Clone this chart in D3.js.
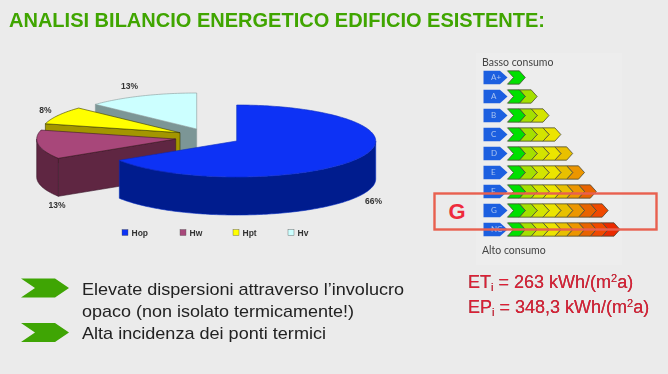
<!DOCTYPE html>
<html>

<head>
  <meta charset="utf-8">
  <script src="https://cdn.jsdelivr.net/npm/d3@7"></script>
  <style>
    html, body { margin: 0; padding: 0; background: #ebebeb; }
    svg { display: block; font-family: "Liberation Sans", Arial, sans-serif; }
  </style>
</head>

<body>
  <div id="chart"></div>

  <script>
    // pie values (percent)
    const categories = ["Hop", "Hw", "Hpt", "Hv"];
    const shares = [66, 13, 8, 13];
    const shareLabels = ["66%", "13%", "8%", "13%"];

    // energy classes, and how many chevrons each row has
    const classes = ["A+", "A", "B", "C", "D", "E", "F", "G", "NC"];
    const classSteps = [1, 2, 3, 4, 5, 6, 7, 8, 9];

    const bullets = ["Elevate dispersioni attraverso l\u2019involucro", "opaco (non isolato termicamente!)", "Alta incidenza dei ponti termici"];

    const width = 668, height = 374;
    const svg = d3.select("#chart").append("svg")
      .attr("width", width).attr("height", height);

    const defs = svg.append("defs");
    defs.append("filter").attr("id", "soft").append("feGaussianBlur").attr("stdDeviation", 0.45);
    defs.append("filter").attr("id", "softtext").append("feGaussianBlur").attr("stdDeviation", 0.3);

    svg.append("text").attr("x", 9).attr("y", 26.5)
      .attr("font-size", 21).attr("font-weight", "bold").attr("fill", "#3fa504")
      .attr("filter", "url(#softtext)")
      .attr("textLength", 536).attr("lengthAdjust", "spacingAndGlyphs")
      .text("ANALISI BILANCIO ENERGETICO EDIFICIO ESISTENTE:");

    // ---- 3D pie
    const topColor = ["#0a32f5", "#a8467a", "#ffff00", "#ccffff"];
    const sideColor = ["#001c8e", "#5f2642", "#a39600", "#7c9696"];
    const lineColor = ["#0a2ac0", "#3a1a2c", "#3a3a00", "#8a9a9a"];
    const apexDx = [236.7, 175.7, 180, 196.7];
    const apexDy = [141, 139, 132.7, 129];
    const rx = 139, ry = 36, depth = 38;

    const sx = d3.scaleLinear().domain([-1, 1]).range([-rx, rx]);
    const sy = d3.scaleLinear().domain([-1, 1]).range([-ry, ry]);
    const px = (a, i) => apexDx[i] + sx(Math.sin(a));
    const py = (a, i) => apexDy[i] + sy(-Math.cos(a));
    const line = d3.line();

    const arcs = d3.pie().sort(null).value(d => d)(shares)
      .map((d, i) => ({ ...d, i }));

    function arcPoints(a0, a1, i, dz) {
      const n = Math.max(2, Math.ceil((a1 - a0) / 0.02));
      return d3.range(n + 1).map(k => {
        const a = a0 + (a1 - a0) * k / n;
        return [px(a, i), py(a, i) + dz];
      });
    }

    const pie = svg.append("g").attr("filter", "url(#soft)");
    // back slices first
    arcs.slice().reverse().forEach(d => {
      const i = d.i, a0 = d.startAngle, a1 = d.endAngle;
      const apex = [apexDx[i], apexDy[i]];
      const g = pie.append("g").attr("stroke", lineColor[i]).attr("stroke-width", 0.6).attr("stroke-linejoin", "round");

      // radial wall at the start of the slice (not for the big one, it faces away)
      if (i > 0) {
        const s = [px(a0, i), py(a0, i)];
        g.append("path").attr("fill", sideColor[i])
          .attr("d", line([apex, s, [s[0], s[1] + depth], [apex[0], apex[1] + depth]]) + "Z");
      }

      // outer rim, only the part that faces the viewer
      const rim0 = Math.max(a0, Math.PI / 2), rim1 = Math.min(a1, Math.PI * 1.5);
      if (rim1 > rim0) {
        const top = arcPoints(rim0, rim1, i, 0);
        const bottom = arcPoints(rim0, rim1, i, depth).reverse();
        g.append("path").attr("fill", sideColor[i]).attr("d", line(top.concat(bottom)) + "Z");
      }

      // upper face
      g.append("path").attr("fill", topColor[i])
        .attr("d", line([apex].concat(arcPoints(a0, a1, i, 0))) + "Z");
    });

    const labelX = [373.5, 57, 45.5, 129.5];
    const labelY = [204, 208, 113, 89];
    svg.append("g").attr("filter", "url(#softtext)").selectAll("text").data(shareLabels).join("text")
      .attr("x", (d, i) => labelX[i]).attr("y", (d, i) => labelY[i])
      .attr("text-anchor", "middle").attr("font-size", 8.5).attr("font-weight", "bold").attr("fill", "#333")
      .text(d => d);

    // legend
    const legendX = [122, 180, 233, 288];
    const legend = svg.append("g").attr("filter", "url(#softtext)").selectAll("g").data(categories).join("g")
      .attr("transform", (d, i) => `translate(${legendX[i]},229.5)`);
    legend.append("rect").attr("width", 6).attr("height", 6)
      .attr("fill", (d, i) => topColor[i]).attr("stroke", "#555").attr("stroke-width", 0.4);
    legend.append("text").attr("x", 9.5).attr("y", 6.3)
      .attr("font-size", 8.5).attr("font-weight", "bold").attr("fill", "#333").text(d => d);

    // ---- energy class ladder
    svg.append("rect").attr("x", 476).attr("y", 53).attr("width", 146).attr("height", 212).attr("fill", "#ededed");

    const stepColor = ["#00e000", "#a4e000", "#d4e400", "#ece400", "#e8c000", "#ec9600", "#e86400", "#f04800", "#ea2a00"];
    const rowY = d3.scaleBand().domain(classes).range([68, 239]).paddingInner(0.3).paddingOuter(0.15);
    const stepX = d3.scaleLinear().domain([0, 9]).range([507.5, 614]);
    const rowH = rowY.bandwidth();

    const ladder = svg.append("g").attr("filter", "url(#soft)");
    const rows = ladder.selectAll("g").data(classes).join("g")
      .attr("transform", d => `translate(0,${rowY(d)})`);

    rows.append("path").attr("fill", "#1f5fe0")
      .attr("d", line([[483.5, 0], [500, 0], [507.5, rowH / 2], [500, rowH], [483.5, rowH]]) + "Z");
    rows.append("text").attr("x", 491).attr("y", rowH / 2 + 3)
      .attr("font-size", 8).attr("fill", "#a8c4f0").attr("font-family", "Lato, sans-serif").text(d => d);

    rows.each(function (d, r) {
      const n = classSteps[r];
      const cw = stepX(1) - stepX(0);
      d3.select(this).selectAll("path.step").data(d3.range(n).reverse()).join("path")
        .attr("class", "step")
        .attr("fill", k => stepColor[k])
        .attr("stroke", "#4a4a3a").attr("stroke-width", 0.8)
        .attr("d", k => {
          const x = stepX(k);
          return line([[x, 0], [x + cw, 0], [x + cw + 6, rowH / 2], [x + cw, rowH], [x, rowH], [x + 6, rowH / 2]]) + "Z";
        });
    });

    svg.append("text").attr("x", 482).attr("y", 66).attr("font-size", 10.5).attr("fill", "#444")
      .attr("filter", "url(#softtext)").attr("font-family", "Lato, sans-serif").text("Basso consumo");
    svg.append("text").attr("x", 482).attr("y", 254).attr("font-size", 10.5).attr("fill", "#444")
      .attr("filter", "url(#softtext)").attr("font-family", "Lato, sans-serif").text("Alto consumo");

    svg.append("rect").attr("x", 434.5).attr("y", 193.5).attr("width", 222).attr("height", 36)
      .attr("fill", "none").attr("stroke", "#e8604f").attr("stroke-width", 2.4);
    svg.append("text").attr("x", 457).attr("y", 219).attr("text-anchor", "middle")
      .attr("font-size", 22).attr("font-weight", "bold").attr("fill", "#ee2a3c").text("G");

    // ---- bullets
    const bulletY = [278.5, 323];
    svg.append("g").selectAll("path").data(bulletY).join("path")
      .attr("fill", "#3fa504")
      .attr("transform", d => `translate(21,${d})`)
      .attr("d", line([[0, 0], [34, 0], [48, 9.5], [34, 19], [0, 19], [14, 9.5]]) + "Z");

    const bulletTextY = [295, 317, 339];
    svg.append("g").attr("filter", "url(#softtext)").selectAll("text").data(bullets).join("text")
      .attr("x", 82).attr("y", (d, i) => bulletTextY[i])
      .attr("font-size", 17).attr("fill", "#222")
      .attr("textLength", (d, i) => [322, 272, 244][i]).attr("lengthAdjust", "spacingAndGlyphs")
      .text(d => d);

    // ---- ET / EP values
    const energy = svg.append("g").attr("font-size", 18).attr("fill", "#dd1f35")
      .style("filter", "drop-shadow(0.8px 0.8px 0.4px rgba(70,20,20,0.75))");
    const writeValue = (y, name, value) => {
      const t = energy.append("text").attr("x", 468).attr("y", y);
      t.append("tspan").text(name);
      t.append("tspan").attr("font-size", 11).attr("dy", 3).text("i");
      t.append("tspan").attr("dy", -3).text(" = " + value + " kWh/(m");
      t.append("tspan").attr("font-size", 11).attr("dy", -6).text("2");
      t.append("tspan").attr("dy", 6).text("a)");
    };
    writeValue(288, "ET", "263");
    writeValue(313, "EP", "348,3");
  </script>
</body>

</html>
